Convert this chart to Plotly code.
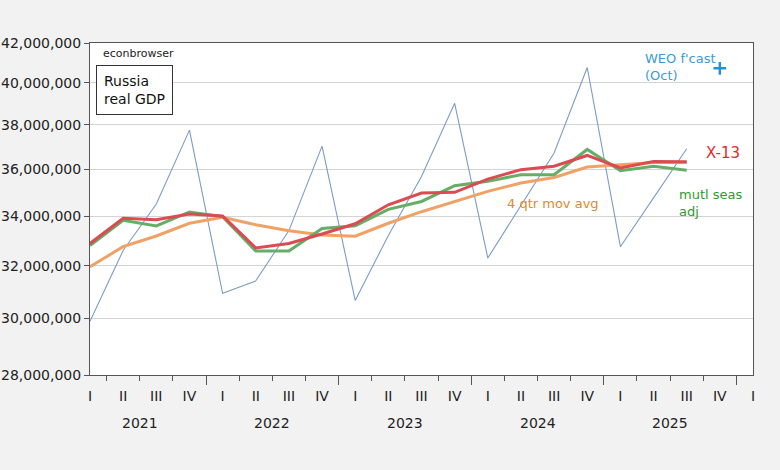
import plotly.graph_objects as go
import numpy as np

quarters = ["I", "II", "III", "IV"] * 5 + ["I"]
years = ["2021", "2022", "2023", "2024", "2025"]

# Russia real GDP (millions of rubles, 2021 prices), 2021Q1 .. 2025Q3
raw = [29.90, 32.60, 34.50, 37.76,
       30.94, 31.41, 33.40, 37.03,
       30.67, 33.20, 35.68, 39.02,
       32.30, 34.42, 36.72, 40.76,
       32.75, 34.76, 36.91]
x13 = [32.88, 33.91, 33.85, 34.08,
       34.00, 32.70, 32.88, 33.26,
       33.68, 34.47, 34.97, 35.00,
       35.57, 35.98, 36.13, 36.61,
       36.06, 36.34, 36.33]
mutl = [32.80, 33.82, 33.59, 34.17,
        33.97, 32.58, 32.58, 33.49,
        33.60, 34.28, 34.61, 35.28,
        35.47, 35.76, 35.76, 36.88,
        35.93, 36.13, 35.95]
mavg = [31.96, 32.75, 33.18, 33.70,
        33.95, 33.64, 33.39, 33.22,
        33.17, 33.70, 34.18, 34.61,
        35.04, 35.40, 35.64, 36.10,
        36.20, 36.30, 36.30]
weo_x = [19]
weo = [40.72]

yticks = [28, 30, 32, 34, 36, 38, 40, 42]

scale = 1e6
idx = list(range(len(raw)))
F = "DejaVu Sans"

fig = go.Figure()
fig.add_trace(go.Scatter(x=idx, y=[v * scale for v in raw], mode="lines",
                         line=dict(color="#7d9cc6", width=1.1), showlegend=False))
fig.add_trace(go.Scatter(x=idx, y=[v * scale for v in mavg], mode="lines",
                         line=dict(color="#f0a266", width=3), showlegend=False))
fig.add_trace(go.Scatter(x=idx, y=[v * scale for v in mutl], mode="lines",
                         line=dict(color="#66ad66", width=3), showlegend=False))
fig.add_trace(go.Scatter(x=idx, y=[v * scale for v in x13], mode="lines",
                         line=dict(color="#db4b52", width=3), showlegend=False))
fig.add_trace(go.Scatter(x=weo_x, y=[v * scale for v in weo], mode="markers",
                         marker=dict(symbol="cross-thin", size=9,
                                     line=dict(color="#2b8fd6", width=2.5)),
                         showlegend=False))
# invisible traces to carry the overlay axes
fig.add_trace(go.Scatter(x=[0, 20], y=[None, None], xaxis="x2", showlegend=False))
fig.add_trace(go.Scatter(x=[0, 20], y=[None, None], xaxis="x3", showlegend=False))

xr = [0, 20]
fig.update_layout(
    width=780, height=470,
    margin=dict(l=90, r=27, t=43, b=95),
    paper_bgcolor="#f2f2f2", plot_bgcolor="#ffffff",
    font=dict(family=F, size=14, color="#222222"),
    xaxis=dict(range=xr, tickmode="array", automargin=False,
               tickvals=[i + 0.5 for i in range(20)],
               ticktext=[""] * 20, ticks="outside", ticklen=5,
               tickcolor="#555555", showgrid=False, zeroline=False,
               showline=True, linecolor="#555555", linewidth=1, mirror=True),
    xaxis2=dict(range=xr, overlaying="x", anchor="y", side="bottom",
                automargin=False,
                tickmode="array", tickvals=list(range(21)), ticktext=quarters,
                ticks="outside", ticklen=8, tickcolor="rgba(0,0,0,0)",
                tickfont=dict(family=F, size=14, color="#222222"),
                showgrid=False, zeroline=False, showline=False),
    xaxis3=dict(range=xr, overlaying="x", anchor="y", side="bottom",
                automargin=False,
                tickmode="array", tickvals=[3.5, 7.5, 11.5, 15.5, 19.5],
                ticktext=[""] * 5, ticks="outside", ticklen=9,
                tickcolor="#555555", showgrid=False, zeroline=False,
                showline=False),
    yaxis=dict(type="log", range=[np.log10(28e6), np.log10(42e6)],
               automargin=False,
               tickmode="array", tickvals=[v * scale for v in yticks],
               ticktext=[f"{int(v * scale):,}" for v in yticks],
               ticks="outside", ticklen=5, tickcolor="#555555",
               tickfont=dict(family=F, size=14, color="#222222"),
               showgrid=True, gridcolor="#d4d4d4", gridwidth=1,
               zeroline=False, showline=True, linecolor="#555555",
               linewidth=1, mirror=True),
)

def px(xp):
    return (xp - 90) / 663.0

def py(yp):
    return (375 - yp) / 332.0

ann = []
for k, yr in enumerate(years):
    ann.append(dict(x=4 * k + 1.5, xref="x", y=py(423), yref="paper",
                    text=yr, showarrow=False, yanchor="middle",
                    font=dict(family=F, size=14, color="#222222")))
ann += [
    dict(x=px(101), y=py(53), xref="paper", yref="paper", text="econbrowser",
         showarrow=False, xanchor="left", yanchor="middle",
         font=dict(family=F, size=11, color="#222222")),
    dict(x=px(96), y=py(65), xref="paper", yref="paper",
         text="Russia<br>real GDP", showarrow=False, xanchor="left",
         yanchor="top", align="left", bordercolor="#333333", borderwidth=1,
         borderpad=7, bgcolor="#ffffff",
         font=dict(family=F, size=14, color="#111111")),
    dict(x=px(643), y=py(67), xref="paper", yref="paper",
         text="WEO f'cast<br>(Oct)", showarrow=False, xanchor="left",
         yanchor="middle", align="left",
         font=dict(family=F, size=13, color="#3b9ad6")),
    dict(x=px(704), y=py(153), xref="paper", yref="paper", text="X-13",
         showarrow=False, xanchor="left", yanchor="middle",
         font=dict(family=F, size=15, color="#e42a2e")),
    dict(x=px(677), y=py(203), xref="paper", yref="paper",
         text="mutl seas<br>adj", showarrow=False, xanchor="left",
         yanchor="middle", align="left",
         font=dict(family=F, size=13, color="#2f9a2f")),
    dict(x=px(505), y=py(203), xref="paper", yref="paper",
         text="4 qtr mov avg", showarrow=False, xanchor="left",
         yanchor="middle",
         font=dict(family=F, size=13, color="#db8a2c")),
]
fig.update_layout(annotations=ann)

fig.write_html("out.html",
               config={"displayModeBar": False},
               post_script="document.body.style.margin='0';"
                           "document.body.style.overflow='hidden';")
